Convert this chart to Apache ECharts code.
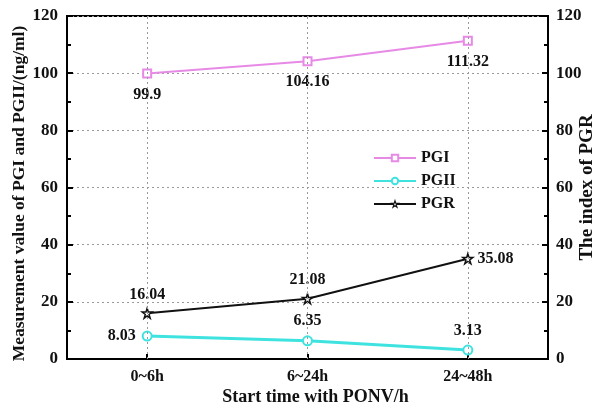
<!DOCTYPE html>
<html>
<head>
<meta charset="utf-8">
<script src="https://cdn.jsdelivr.net/npm/echarts@6/dist/echarts.min.js"></script>
<style>html,body{margin:0;padding:0;background:#fff;}#c{width:604px;height:415px;}</style>
</head>
<body>
<div id="c"></div>
<script>
const categories = ['0~6h', '6~24h', '24~48h'];
const pgi = [99.9, 104.16, 111.32];
const pgii = [8.03, 6.35, 3.13];
const pgr = [16.04, 21.08, 35.08];
const yTicks = [0, 20, 40, 60, 80, 100, 120];

const font = 'Liberation Serif';
const starPath = 'path://M50,0 L61,35 L98,35 L68,57 L79,91 L50,70 L21,91 L32,57 L2,35 L39,35 Z';
const labelBase = {show: true, fontFamily: font, fontWeight: 'bold', fontSize: 16, color: '#111'};

const chart = echarts.init(document.getElementById('c'), null, {renderer: 'canvas'});
const yMin = yTicks[0], yMax = yTicks[yTicks.length - 1];
const yAxisCommon = {
  type: 'value', min: yMin, max: yMax, interval: 20,
  axisLine: {show: true, lineStyle: {color: '#000', width: 2}},
  axisTick: {show: true, inside: true, length: 6, lineStyle: {color: '#000', width: 2}},
  axisLabel: {fontFamily: font, fontWeight: 'bold', fontSize: 17, color: '#111'},
  nameLocation: 'middle', nameRotate: 90, nameMoveOverlap: false
};
const minorAxis = (pos) => ({
  type: 'value', min: yMin, max: yMax, interval: 10, position: pos,
  axisLine: {show: false},
  axisTick: {show: true, inside: true, length: 4, lineStyle: {color: '#000', width: 2}},
  axisLabel: {show: false}, splitLine: {show: false}
});
chart.setOption({
  animation: false,
  backgroundColor: '#fff',
  grid: {left: 67, right: 56, top: 16, bottom: 56, outerBoundsMode: 'none', containLabel: false,
         show: true, borderColor: '#000', borderWidth: 2},
  legend: {
    left: 373, top: 150, padding: 0, orient: 'vertical', itemWidth: 42, itemHeight: 8, itemGap: 7,
    textStyle: {fontFamily: font, fontWeight: 'bold', fontSize: 16, color: '#111'},
    data: [
      {name: 'PGI'},
      {name: 'PGII'},
      {name: 'PGR', itemStyle: {color: '#fff', borderColor: '#111', borderWidth: 1.2}}
    ]
  },
  xAxis: {
    type: 'category', data: categories, boundaryGap: true,
    axisLine: {lineStyle: {color: '#000', width: 2}},
    axisTick: {show: true, inside: true, alignWithLabel: true, length: 5, lineStyle: {color: '#000', width: 2}},
    axisLabel: {fontFamily: font, fontWeight: 'bold', fontSize: 16, color: '#111', margin: 10},
    splitLine: {show: false},
    name: 'Start time with PONV/h', nameLocation: 'middle', nameGap: 29, nameMoveOverlap: false,
    nameTextStyle: {fontFamily: font, fontWeight: 'bold', fontSize: 18, color: '#111', padding: [0, 0, 0, 16]}
  },
  yAxis: [
    Object.assign({}, yAxisCommon, {
      position: 'left', name: 'Measurement value of PGI and PGII/(ng/ml)', nameGap: 39,
      nameTextStyle: {fontFamily: font, fontWeight: 'bold', fontSize: 17.5, color: '#111', padding: [0, 12, 0, 0]},
      axisLabel: Object.assign({}, yAxisCommon.axisLabel, {margin: 9}),
      splitLine: {show: true, lineStyle: {color: '#999', type: [2, 3], width: 1}}
    }),
    Object.assign({}, yAxisCommon, {
      position: 'right', name: 'The index of PGR', nameGap: 30,
      nameTextStyle: {fontFamily: font, fontWeight: 'bold', fontSize: 19, color: '#111'},
      axisLabel: Object.assign({}, yAxisCommon.axisLabel, {margin: 8}),
      splitLine: {show: false}
    }),
    minorAxis('left'),
    minorAxis('right')
  ],
  series: [
    {
      name: 'PGI', type: 'line', data: pgi, yAxisIndex: 0,
      symbol: 'emptyRect', symbolSize: 8,
      lineStyle: {color: '#e68ae6', width: 2},
      itemStyle: {color: '#e68ae6'},
      label: Object.assign({}, labelBase, {position: 'bottom', distance: 8}),
      markLine: {
        silent: true, symbol: 'none', label: {show: false},
        lineStyle: {color: '#999', type: [2, 3], width: 1},
        data: categories.map(c => ({xAxis: c}))
      },
      z: 3
    },
    {
      name: 'PGII', type: 'line', yAxisIndex: 0,
      symbol: 'emptyCircle', symbolSize: 9,
      lineStyle: {color: '#3ee3e0', width: 3},
      itemStyle: {color: '#3ee3e0', borderWidth: 2},
      label: labelBase,
      data: pgii.map((v, i) => ({
        value: v,
        label: i === 0 ? {position: 'left', distance: 6} : {position: 'top', distance: 6}
      })),
      z: 3
    },
    {
      name: 'PGR', type: 'line', yAxisIndex: 1,
      symbol: starPath, symbolSize: 10,
      lineStyle: {color: '#111', width: 2},
      itemStyle: {color: '#fff', borderColor: '#111', borderWidth: 1.5},
      label: labelBase,
      data: pgr.map((v, i) => ({
        value: v,
        label: i === 2 ? {position: 'right', distance: 4} : {position: 'top', distance: 5}
      })),
      z: 4
    }
  ]
});
</script>
</body>
</html>
